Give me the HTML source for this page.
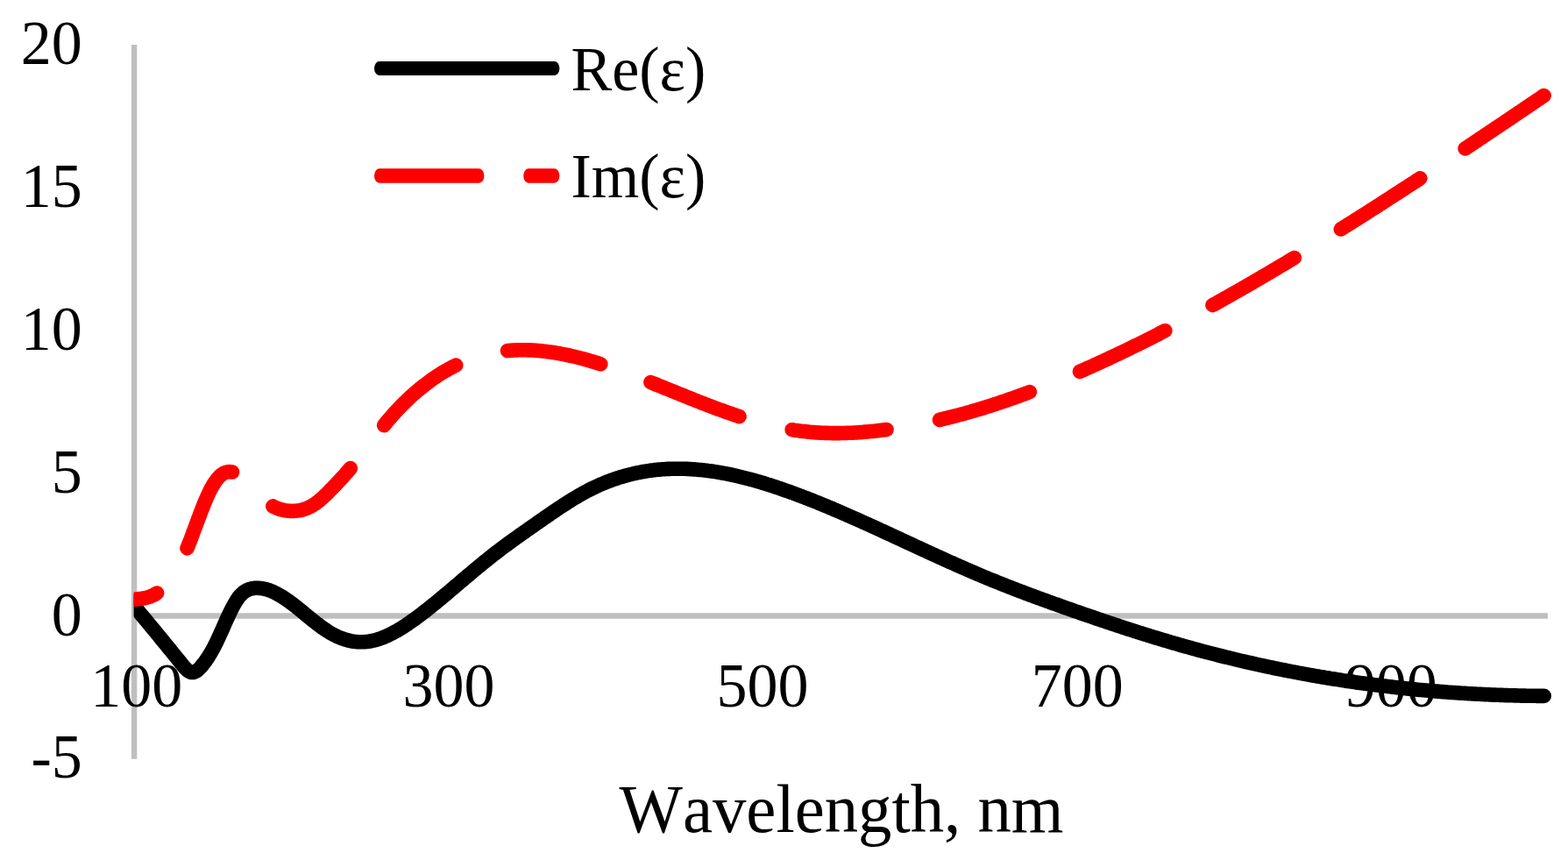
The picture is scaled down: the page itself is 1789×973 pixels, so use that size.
<!DOCTYPE html>
<html><head><meta charset="utf-8"><title>Dielectric function</title>
<style>
html,body{margin:0;padding:0;background:#fff;}
body{width:1789px;height:973px;overflow:hidden;}
svg{display:block;}
text{font-family:"Liberation Serif",serif;fill:#000;}
</style></head><body>
<svg width="1789" height="973" viewBox="0 0 1789 973">
<defs><clipPath id="plot"><rect x="152.6" y="0" width="1640" height="973"/></clipPath></defs>
<rect width="1789" height="973" fill="#fff"/>
<line x1="153.1" y1="51.1" x2="153.1" y2="865.7" stroke="#bfbfbf" stroke-width="6.4"/>
<line x1="150" y1="702.45" x2="1765.9" y2="702.45" stroke="#bfbfbf" stroke-width="6.6"/>
<text transform="translate(93.8 73.3) scale(1 1.015)" font-size="70" text-anchor="end">20</text>
<text transform="translate(93.8 236.1) scale(1 1.015)" font-size="70" text-anchor="end">15</text>
<text transform="translate(93.8 398.9) scale(1 1.015)" font-size="70" text-anchor="end">10</text>
<text transform="translate(93.8 561.8) scale(1 1.015)" font-size="70" text-anchor="end">5</text>
<text transform="translate(93.8 724.6) scale(1 1.015)" font-size="70" text-anchor="end">0</text>
<text transform="translate(93.8 887.4) scale(1 1.015)" font-size="70" text-anchor="end">-5</text>
<text transform="translate(155.8 806.4) scale(1 1.015)" font-size="70" text-anchor="middle">100</text>
<text transform="translate(512.0 806.4) scale(1 1.015)" font-size="70" text-anchor="middle">300</text>
<text transform="translate(870.0 806.4) scale(1 1.015)" font-size="70" text-anchor="middle">500</text>
<text transform="translate(1229.3 806.4) scale(1 1.015)" font-size="70" text-anchor="middle">700</text>
<text transform="translate(1587.3 806.4) scale(1 1.015)" font-size="70" text-anchor="middle">900</text>
<text transform="translate(706.6 948.8) scale(1 1.03)" font-size="76.7" text-anchor="start" style="font-kerning:none">Wavelength, nm</text>
<g clip-path="url(#plot)" fill="none" stroke-linecap="round" stroke-linejoin="round">
<path d="M140.0 675.9 L142.0 678.2 L144.0 680.6 L146.0 683.0 L148.0 685.4 L150.0 687.7 L152.0 690.1 L154.0 692.5 L156.0 694.9 L158.0 697.3 L160.0 699.7 L162.0 702.1 L164.0 704.5 L166.0 706.9 L168.0 709.3 L170.0 711.7 L172.0 714.1 L174.0 716.5 L176.0 718.9 L178.0 721.4 L180.0 723.8 L182.0 726.2 L184.0 728.7 L186.0 731.1 L188.0 733.6 L190.0 736.0 L192.0 738.5 L194.0 740.9 L196.0 743.4 L198.0 745.9 L200.0 748.4 L202.0 750.8 L204.0 753.3 L206.0 755.8 L208.0 758.3 L210.0 760.7 L212.0 762.8 L214.0 764.7 L216.0 766.0 L218.0 766.9 L220.0 767.0 L222.0 766.6 L224.0 765.5 L226.0 764.0 L228.0 762.0 L230.0 759.8 L232.0 757.3 L234.0 754.7 L236.0 751.8 L238.0 748.8 L240.0 745.5 L242.0 742.1 L244.0 738.4 L246.0 734.5 L248.0 730.4 L250.0 726.1 L252.0 721.6 L254.0 717.2 L256.0 712.7 L258.0 708.2 L260.0 703.8 L262.0 699.5 L264.0 695.4 L266.0 691.5 L268.0 688.0 L270.0 684.7 L272.0 681.8 L274.0 679.3 L276.0 677.3 L278.0 675.5 L280.0 674.2 L282.0 673.1 L284.0 672.2 L286.0 671.6 L288.0 671.2 L290.0 670.9 L292.0 670.8 L294.0 670.8 L296.0 670.9 L298.0 671.1 L300.0 671.4 L302.0 671.8 L304.0 672.3 L306.0 672.9 L308.0 673.6 L310.0 674.4 L312.0 675.3 L314.0 676.2 L316.0 677.3 L318.0 678.4 L320.0 679.5 L322.0 680.7 L324.0 682.0 L326.0 683.4 L328.0 684.7 L330.0 686.2 L332.0 687.6 L334.0 689.1 L336.0 690.7 L338.0 692.2 L340.0 693.8 L342.0 695.5 L344.0 697.1 L346.0 698.7 L348.0 700.4 L350.0 702.0 L352.0 703.7 L354.0 705.3 L356.0 706.9 L358.0 708.5 L360.0 710.1 L362.0 711.6 L364.0 713.2 L366.0 714.7 L368.0 716.1 L370.0 717.5 L372.0 718.8 L374.0 720.1 L376.0 721.4 L378.0 722.5 L380.0 723.7 L382.0 724.7 L384.0 725.7 L386.0 726.6 L388.0 727.4 L390.0 728.2 L392.0 728.9 L394.0 729.5 L396.0 730.1 L398.0 730.6 L400.0 731.1 L402.0 731.5 L404.0 731.8 L406.0 732.0 L408.0 732.2 L410.0 732.3 L411.9 732.3 L413.9 732.3 L415.9 732.2 L417.9 732.0 L419.9 731.8 L421.9 731.5 L423.9 731.1 L425.9 730.7 L427.9 730.2 L429.9 729.7 L431.9 729.0 L433.9 728.4 L435.9 727.6 L437.9 726.9 L439.9 726.0 L441.9 725.1 L443.9 724.2 L445.9 723.2 L447.9 722.2 L449.9 721.1 L451.9 720.0 L453.9 718.9 L455.9 717.7 L457.9 716.5 L459.9 715.2 L461.9 713.9 L463.9 712.6 L465.9 711.2 L467.9 709.8 L469.9 708.4 L471.9 707.0 L473.9 705.6 L475.9 704.1 L477.9 702.6 L479.9 701.1 L481.9 699.6 L483.9 698.0 L485.9 696.5 L487.9 694.9 L489.9 693.3 L491.9 691.7 L493.9 690.1 L495.9 688.5 L497.9 686.9 L499.9 685.2 L501.9 683.6 L503.9 681.9 L505.9 680.2 L507.9 678.6 L509.9 676.9 L511.9 675.2 L513.9 673.5 L515.9 671.8 L517.9 670.1 L519.9 668.4 L521.9 666.7 L523.9 665.0 L525.9 663.3 L527.9 661.6 L529.9 659.9 L531.9 658.2 L533.9 656.6 L535.9 654.9 L537.9 653.2 L539.9 651.5 L541.9 649.8 L543.9 648.2 L545.9 646.5 L547.9 644.9 L549.9 643.2 L551.9 641.6 L553.9 640.0 L555.9 638.4 L557.9 636.8 L559.9 635.2 L561.9 633.6 L563.9 632.0 L565.9 630.5 L567.9 629.0 L569.9 627.4 L571.9 625.9 L573.9 624.4 L575.9 622.9 L577.9 621.5 L579.9 620.0 L581.9 618.5 L583.9 617.1 L585.9 615.6 L587.9 614.2 L589.9 612.8 L591.9 611.3 L593.9 609.9 L595.9 608.5 L597.9 607.1 L599.9 605.7 L601.9 604.3 L603.9 602.9 L605.9 601.5 L607.9 600.1 L609.9 598.7 L611.9 597.3 L613.9 595.9 L615.9 594.5 L617.9 593.1 L619.9 591.7 L621.9 590.3 L623.9 589.0 L625.9 587.6 L627.9 586.2 L629.9 584.8 L631.9 583.5 L633.9 582.1 L635.9 580.8 L637.9 579.4 L639.9 578.1 L641.9 576.8 L643.9 575.5 L645.9 574.2 L647.9 572.9 L649.9 571.7 L651.9 570.4 L653.9 569.2 L655.9 568.0 L657.9 566.8 L659.9 565.6 L661.9 564.5 L663.9 563.3 L665.9 562.2 L667.9 561.1 L669.9 560.1 L671.9 559.0 L673.9 558.0 L675.9 557.0 L677.9 556.1 L679.9 555.1 L681.9 554.2 L683.9 553.3 L685.9 552.4 L687.9 551.6 L689.9 550.7 L691.9 549.9 L693.9 549.2 L695.9 548.4 L697.9 547.7 L699.9 546.9 L701.9 546.3 L703.9 545.6 L705.9 544.9 L707.9 544.3 L709.9 543.7 L711.9 543.1 L713.9 542.6 L715.9 542.0 L717.9 541.5 L719.9 541.0 L721.9 540.5 L723.9 540.0 L725.9 539.6 L727.9 539.2 L729.9 538.8 L731.9 538.4 L733.9 538.0 L735.9 537.7 L737.9 537.4 L739.9 537.1 L741.9 536.8 L743.9 536.5 L745.9 536.3 L747.9 536.0 L749.9 535.8 L751.9 535.6 L753.9 535.5 L755.9 535.3 L757.9 535.2 L759.9 535.0 L761.9 534.9 L763.9 534.9 L765.9 534.8 L767.9 534.7 L769.9 534.7 L771.9 534.7 L773.9 534.7 L775.9 534.7 L777.9 534.7 L779.9 534.8 L781.9 534.8 L783.9 534.9 L785.9 535.0 L787.9 535.1 L789.9 535.2 L791.9 535.4 L793.9 535.5 L795.9 535.7 L797.9 535.9 L799.9 536.1 L801.9 536.3 L803.9 536.5 L805.9 536.7 L807.9 537.0 L809.9 537.2 L811.9 537.5 L813.9 537.8 L815.9 538.1 L817.9 538.4 L819.9 538.8 L821.9 539.1 L823.9 539.5 L825.9 539.8 L827.9 540.2 L829.9 540.6 L831.9 541.0 L833.9 541.4 L835.9 541.9 L837.9 542.3 L839.9 542.7 L841.9 543.2 L843.9 543.7 L845.9 544.2 L847.9 544.7 L849.9 545.2 L851.9 545.7 L853.9 546.2 L855.9 546.7 L857.9 547.3 L859.9 547.8 L861.9 548.4 L863.9 549.0 L865.9 549.5 L867.9 550.1 L869.9 550.7 L871.9 551.3 L873.9 552.0 L875.9 552.6 L877.9 553.2 L879.9 553.9 L881.9 554.5 L883.9 555.2 L885.9 555.8 L887.9 556.5 L889.9 557.2 L891.9 557.9 L893.9 558.6 L895.9 559.3 L897.9 560.0 L899.9 560.7 L901.9 561.4 L903.9 562.1 L905.9 562.9 L907.9 563.6 L909.9 564.4 L911.9 565.1 L913.9 565.9 L915.9 566.6 L917.9 567.4 L919.9 568.2 L921.9 568.9 L923.9 569.7 L925.9 570.5 L927.9 571.3 L929.9 572.1 L931.9 572.9 L933.9 573.7 L935.9 574.5 L937.9 575.4 L939.9 576.2 L941.9 577.0 L943.9 577.8 L945.9 578.7 L947.9 579.5 L949.9 580.3 L951.8 581.2 L953.8 582.0 L955.8 582.9 L957.8 583.8 L959.8 584.6 L961.8 585.5 L963.8 586.4 L965.8 587.2 L967.8 588.1 L969.8 589.0 L971.8 589.9 L973.8 590.7 L975.8 591.6 L977.8 592.5 L979.8 593.4 L981.8 594.3 L983.8 595.2 L985.8 596.1 L987.8 597.0 L989.8 597.9 L991.8 598.8 L993.8 599.7 L995.8 600.6 L997.8 601.5 L999.8 602.4 L1001.8 603.4 L1003.8 604.3 L1005.8 605.2 L1007.8 606.1 L1009.8 607.0 L1011.8 608.0 L1013.8 608.9 L1015.8 609.8 L1017.8 610.7 L1019.8 611.6 L1021.8 612.6 L1023.8 613.5 L1025.8 614.4 L1027.8 615.3 L1029.8 616.3 L1031.8 617.2 L1033.8 618.1 L1035.8 619.1 L1037.8 620.0 L1039.8 620.9 L1041.8 621.8 L1043.8 622.8 L1045.8 623.7 L1047.8 624.6 L1049.8 625.5 L1051.8 626.5 L1053.8 627.4 L1055.8 628.3 L1057.8 629.2 L1059.8 630.1 L1061.8 631.1 L1063.8 632.0 L1065.8 632.9 L1067.8 633.8 L1069.8 634.7 L1071.8 635.6 L1073.8 636.5 L1075.8 637.4 L1077.8 638.4 L1079.8 639.3 L1081.8 640.2 L1083.8 641.1 L1085.8 641.9 L1087.8 642.8 L1089.8 643.7 L1091.8 644.6 L1093.8 645.5 L1095.8 646.4 L1097.8 647.3 L1099.8 648.1 L1101.8 649.0 L1103.8 649.9 L1105.8 650.8 L1107.8 651.6 L1109.8 652.5 L1111.8 653.3 L1113.8 654.2 L1115.8 655.0 L1117.8 655.9 L1119.8 656.7 L1121.8 657.6 L1123.8 658.4 L1125.8 659.2 L1127.8 660.1 L1129.8 660.9 L1131.8 661.7 L1133.8 662.5 L1135.8 663.3 L1137.8 664.1 L1139.8 664.9 L1141.8 665.7 L1143.8 666.5 L1145.8 667.3 L1147.8 668.1 L1149.8 668.9 L1151.8 669.7 L1153.8 670.4 L1155.8 671.2 L1157.8 672.0 L1159.8 672.8 L1161.8 673.5 L1163.8 674.3 L1165.8 675.0 L1167.8 675.8 L1169.8 676.6 L1171.8 677.3 L1173.8 678.1 L1175.8 678.8 L1177.8 679.5 L1179.8 680.3 L1181.8 681.0 L1183.8 681.8 L1185.8 682.5 L1187.8 683.2 L1189.8 684.0 L1191.8 684.7 L1193.8 685.4 L1195.8 686.1 L1197.8 686.9 L1199.8 687.6 L1201.8 688.3 L1203.8 689.0 L1205.8 689.7 L1207.8 690.4 L1209.8 691.1 L1211.8 691.9 L1213.8 692.6 L1215.8 693.3 L1217.8 694.0 L1219.8 694.7 L1221.8 695.4 L1223.8 696.1 L1225.8 696.8 L1227.8 697.5 L1229.8 698.2 L1231.8 698.9 L1233.8 699.6 L1235.8 700.3 L1237.8 701.0 L1239.8 701.7 L1241.8 702.3 L1243.8 703.0 L1245.8 703.7 L1247.8 704.4 L1249.8 705.1 L1251.8 705.8 L1253.8 706.5 L1255.8 707.1 L1257.8 707.8 L1259.8 708.5 L1261.8 709.2 L1263.8 709.8 L1265.8 710.5 L1267.8 711.2 L1269.8 711.8 L1271.8 712.5 L1273.8 713.2 L1275.8 713.8 L1277.8 714.5 L1279.8 715.1 L1281.8 715.8 L1283.8 716.5 L1285.8 717.1 L1287.8 717.8 L1289.8 718.4 L1291.8 719.0 L1293.8 719.7 L1295.8 720.3 L1297.8 721.0 L1299.8 721.6 L1301.8 722.2 L1303.8 722.9 L1305.8 723.5 L1307.8 724.1 L1309.8 724.7 L1311.8 725.4 L1313.8 726.0 L1315.8 726.6 L1317.8 727.2 L1319.8 727.8 L1321.8 728.4 L1323.8 729.0 L1325.8 729.6 L1327.8 730.2 L1329.8 730.8 L1331.8 731.4 L1333.8 732.0 L1335.8 732.6 L1337.8 733.2 L1339.8 733.8 L1341.8 734.3 L1343.8 734.9 L1345.8 735.5 L1347.8 736.1 L1349.8 736.6 L1351.8 737.2 L1353.8 737.8 L1355.8 738.3 L1357.8 738.9 L1359.8 739.4 L1361.8 740.0 L1363.8 740.5 L1365.8 741.1 L1367.8 741.6 L1369.8 742.1 L1371.8 742.7 L1373.8 743.2 L1375.8 743.7 L1377.8 744.3 L1379.8 744.8 L1381.8 745.3 L1383.8 745.8 L1385.8 746.3 L1387.8 746.8 L1389.8 747.4 L1391.8 747.9 L1393.8 748.4 L1395.8 748.9 L1397.8 749.4 L1399.8 749.8 L1401.8 750.3 L1403.8 750.8 L1405.8 751.3 L1407.8 751.8 L1409.8 752.3 L1411.8 752.7 L1413.8 753.2 L1415.8 753.7 L1417.8 754.2 L1419.8 754.6 L1421.8 755.1 L1423.8 755.5 L1425.8 756.0 L1427.8 756.4 L1429.8 756.9 L1431.8 757.3 L1433.8 757.8 L1435.8 758.2 L1437.8 758.7 L1439.8 759.1 L1441.8 759.5 L1443.8 760.0 L1445.8 760.4 L1447.8 760.8 L1449.8 761.2 L1451.8 761.6 L1453.8 762.1 L1455.8 762.5 L1457.8 762.9 L1459.8 763.3 L1461.8 763.7 L1463.8 764.1 L1465.8 764.5 L1467.8 764.9 L1469.8 765.3 L1471.8 765.7 L1473.8 766.1 L1475.8 766.4 L1477.8 766.8 L1479.8 767.2 L1481.8 767.6 L1483.8 767.9 L1485.8 768.3 L1487.8 768.7 L1489.8 769.0 L1491.7 769.4 L1493.7 769.8 L1495.7 770.1 L1497.7 770.5 L1499.7 770.8 L1501.7 771.2 L1503.7 771.5 L1505.7 771.9 L1507.7 772.2 L1509.7 772.5 L1511.7 772.9 L1513.7 773.2 L1515.7 773.5 L1517.7 773.9 L1519.7 774.2 L1521.7 774.5 L1523.7 774.8 L1525.7 775.1 L1527.7 775.4 L1529.7 775.7 L1531.7 776.1 L1533.7 776.4 L1535.7 776.7 L1537.7 777.0 L1539.7 777.3 L1541.7 777.5 L1543.7 777.8 L1545.7 778.1 L1547.7 778.4 L1549.7 778.7 L1551.7 779.0 L1553.7 779.2 L1555.7 779.5 L1557.7 779.8 L1559.7 780.1 L1561.7 780.3 L1563.7 780.6 L1565.7 780.8 L1567.7 781.1 L1569.7 781.4 L1571.7 781.6 L1573.7 781.9 L1575.7 782.1 L1577.7 782.4 L1579.7 782.6 L1581.7 782.8 L1583.7 783.1 L1585.7 783.3 L1587.7 783.5 L1589.7 783.8 L1591.7 784.0 L1593.7 784.2 L1595.7 784.4 L1597.7 784.7 L1599.7 784.9 L1601.7 785.1 L1603.7 785.3 L1605.7 785.5 L1607.7 785.7 L1609.7 785.9 L1611.7 786.1 L1613.7 786.3 L1615.7 786.5 L1617.7 786.7 L1619.7 786.9 L1621.7 787.1 L1623.7 787.3 L1625.7 787.4 L1627.7 787.6 L1629.7 787.8 L1631.7 788.0 L1633.7 788.1 L1635.7 788.3 L1637.7 788.5 L1639.7 788.6 L1641.7 788.8 L1643.7 789.0 L1645.7 789.1 L1647.7 789.3 L1649.7 789.4 L1651.7 789.6 L1653.7 789.7 L1655.7 789.9 L1657.7 790.0 L1659.7 790.1 L1661.7 790.3 L1663.7 790.4 L1665.7 790.5 L1667.7 790.7 L1669.7 790.8 L1671.7 790.9 L1673.7 791.0 L1675.7 791.2 L1677.7 791.3 L1679.7 791.4 L1681.7 791.5 L1683.7 791.6 L1685.7 791.7 L1687.7 791.8 L1689.7 791.9 L1691.7 792.0 L1693.7 792.1 L1695.7 792.2 L1697.7 792.3 L1699.7 792.4 L1701.7 792.5 L1703.7 792.6 L1705.7 792.6 L1707.7 792.7 L1709.7 792.8 L1711.7 792.9 L1713.7 792.9 L1715.7 793.0 L1717.7 793.1 L1719.7 793.1 L1721.7 793.2 L1723.7 793.3 L1725.7 793.3 L1727.7 793.4 L1729.7 793.4 L1731.7 793.5 L1733.7 793.5 L1735.7 793.6 L1737.7 793.6 L1739.7 793.6 L1741.7 793.7 L1743.7 793.7 L1745.7 793.8 L1747.7 793.8 L1749.7 793.8 L1751.7 793.8 L1753.7 793.9 L1755.7 793.9 L1757.7 793.9 L1759.7 793.9 L1761.7 793.9" stroke="#000" stroke-width="16.6"/>
<path d="M140.0 685.1 L142.0 684.7 L143.9 684.5 L145.9 684.3 L147.8 684.1 L149.8 684.0 L151.7 683.8 L153.7 683.7 L155.6 683.5 L157.6 683.3 L159.6 683.1 L161.5 682.9 L163.5 682.5 L165.4 682.2 L167.4 681.7 L169.3 681.1 L171.3 680.5 L173.2 679.7 L175.2 678.8 L177.1 677.7 L179.1 676.5 M213.5 625.4 L215.5 620.5 L217.5 615.5 L219.4 610.2 L221.4 604.9 L223.4 599.6 L225.4 594.2 L227.4 588.9 L229.3 583.7 L231.3 578.6 L233.3 573.7 L235.3 569.0 L237.3 564.5 L239.2 560.4 L241.2 556.6 L243.2 553.1 L245.2 550.0 L247.2 547.2 L249.2 544.9 L251.1 542.8 L253.1 541.2 L255.1 539.9 L257.1 539.0 L259.1 538.4 L261.0 538.1 L263.0 538.2 L265.0 538.5 M311.3 577.4 L313.3 578.5 L315.3 579.4 L317.3 580.2 L319.3 580.9 L321.4 581.4 L323.4 581.9 L325.4 582.3 L327.4 582.6 L329.4 582.8 L331.4 582.9 L333.4 583.0 L335.4 582.9 L337.4 582.8 L339.5 582.6 L341.5 582.3 L343.5 581.9 L345.5 581.4 L347.5 580.7 L349.5 580.0 L351.5 579.1 L353.5 578.2 L355.6 577.1 L357.6 575.9 L359.6 574.6 L361.6 573.1 L363.6 571.6 L365.6 569.9 L367.6 568.1 L369.6 566.3 L371.6 564.4 L373.7 562.4 L375.7 560.4 L377.7 558.3 L379.7 556.3 L381.7 554.2 L383.7 552.1 L385.7 549.9 L387.7 547.8 L389.7 545.6 L391.8 543.4 L393.8 541.1 L395.8 538.8 L397.8 536.5 L399.8 534.1 M438.1 485.2 L440.1 482.7 L442.1 480.3 L444.1 478.0 L446.1 475.7 L448.1 473.4 L450.1 471.2 L452.1 469.0 L454.1 466.9 L456.1 464.8 L458.1 462.7 L460.1 460.7 L462.1 458.7 L464.1 456.8 L466.1 454.8 L468.1 453.0 L470.1 451.1 L472.1 449.3 L474.1 447.6 L476.1 445.9 L478.1 444.2 L480.2 442.5 L482.2 440.9 L484.2 439.3 L486.2 437.8 L488.2 436.3 L490.2 434.8 L492.2 433.3 L494.2 431.9 L496.2 430.6 L498.2 429.2 L500.2 427.9 L502.2 426.6 L504.2 425.4 L506.2 424.2 L508.2 423.0 L510.2 421.9 L512.2 420.8 L514.2 419.7 L516.2 418.6 L518.2 417.6 L520.2 416.6 M579.0 400.1 L581.0 399.9 L583.0 399.8 L585.0 399.6 L587.0 399.5 L589.0 399.4 L591.0 399.3 L593.0 399.3 L595.0 399.3 L597.1 399.3 L599.1 399.3 L601.1 399.3 L603.1 399.4 L605.1 399.4 L607.1 399.5 L609.1 399.6 L611.1 399.8 L613.1 399.9 L615.1 400.1 L617.1 400.3 L619.1 400.5 L621.1 400.7 L623.1 400.9 L625.1 401.2 L627.1 401.4 L629.1 401.7 L631.1 402.0 L633.2 402.3 L635.2 402.7 L637.2 403.0 L639.2 403.4 L641.2 403.8 L643.2 404.2 L645.2 404.6 L647.2 405.0 L649.2 405.4 L651.2 405.9 L653.2 406.3 L655.2 406.8 L657.2 407.3 L659.2 407.8 L661.2 408.3 L663.2 408.8 L665.2 409.3 L667.2 409.9 L669.3 410.4 L671.3 411.0 L673.3 411.6 L675.3 412.2 L677.3 412.8 L679.3 413.4 L681.3 414.0 L683.3 414.6 L685.3 415.3 M742.4 436.1 L744.4 436.9 L746.4 437.7 L748.3 438.5 L750.3 439.3 L752.3 440.1 L754.3 440.9 L756.3 441.7 L758.3 442.5 L760.2 443.3 L762.2 444.1 L764.2 444.9 L766.2 445.7 L768.2 446.5 L770.2 447.3 L772.1 448.1 L774.1 448.9 L776.1 449.7 L778.1 450.5 L780.1 451.3 L782.0 452.1 L784.0 452.9 L786.0 453.7 L788.0 454.5 L790.0 455.3 L792.0 456.1 L793.9 456.9 L795.9 457.6 L797.9 458.4 L799.9 459.2 L801.9 460.0 L803.9 460.8 L805.8 461.5 L807.8 462.3 L809.8 463.0 L811.8 463.8 L813.8 464.5 L815.7 465.3 L817.7 466.0 L819.7 466.8 L821.7 467.5 L823.7 468.2 L825.7 468.9 L827.6 469.6 L829.6 470.3 L831.6 471.0 L833.6 471.7 L835.6 472.4 L837.6 473.1 L839.5 473.8 L841.5 474.4 L843.5 475.1 M903.7 490.2 L905.7 490.6 L907.7 490.9 L909.7 491.1 L911.7 491.4 L913.7 491.7 L915.7 491.9 L917.7 492.1 L919.7 492.3 L921.7 492.6 L923.7 492.7 L925.7 492.9 L927.7 493.1 L929.7 493.2 L931.6 493.4 L933.6 493.5 L935.6 493.6 L937.6 493.7 L939.6 493.8 L941.6 493.9 L943.6 493.9 L945.6 494.0 L947.6 494.0 L949.6 494.1 L951.6 494.1 L953.6 494.1 L955.6 494.1 L957.6 494.1 L959.6 494.0 L961.6 494.0 L963.6 494.0 L965.6 493.9 L967.6 493.8 L969.6 493.8 L971.6 493.7 L973.6 493.6 L975.6 493.5 L977.6 493.4 L979.6 493.2 L981.6 493.1 L983.6 493.0 L985.5 492.8 L987.5 492.6 L989.5 492.5 L991.5 492.3 L993.5 492.1 L995.5 491.9 L997.5 491.7 L999.5 491.5 L1001.5 491.3 L1003.5 491.0 L1005.5 490.8 L1007.5 490.6 L1009.5 490.3 L1011.5 490.0 M1072.0 478.9 L1074.0 478.4 L1076.0 477.9 L1078.0 477.4 L1080.1 476.9 L1082.1 476.4 L1084.1 475.9 L1086.1 475.4 L1088.1 474.9 L1090.1 474.4 L1092.2 473.8 L1094.2 473.3 L1096.2 472.8 L1098.2 472.2 L1100.2 471.7 L1102.2 471.1 L1104.3 470.5 L1106.3 470.0 L1108.3 469.4 L1110.3 468.8 L1112.3 468.2 L1114.3 467.6 L1116.3 467.0 L1118.4 466.4 L1120.4 465.8 L1122.4 465.2 L1124.4 464.5 L1126.4 463.9 L1128.4 463.3 L1130.5 462.6 L1132.5 462.0 L1134.5 461.3 L1136.5 460.7 L1138.5 460.0 L1140.5 459.3 L1142.5 458.6 L1144.6 458.0 L1146.6 457.3 L1148.6 456.6 L1150.6 455.9 L1152.6 455.2 L1154.6 454.5 L1156.7 453.8 L1158.7 453.1 L1160.7 452.3 L1162.7 451.6 L1164.7 450.9 L1166.7 450.1 L1168.8 449.4 L1170.8 448.7 L1172.8 447.9 L1174.8 447.1 M1232.0 423.8 L1234.0 423.0 L1236.0 422.1 L1238.0 421.2 L1239.9 420.3 L1241.9 419.4 L1243.9 418.6 L1245.9 417.7 L1247.9 416.8 L1249.9 415.9 L1251.9 415.0 L1253.8 414.1 L1255.8 413.1 L1257.8 412.2 L1259.8 411.3 L1261.8 410.4 L1263.8 409.5 L1265.8 408.5 L1267.7 407.6 L1269.7 406.7 L1271.7 405.7 L1273.7 404.8 L1275.7 403.9 L1277.7 402.9 L1279.7 402.0 L1281.6 401.0 L1283.6 400.1 L1285.6 399.1 L1287.6 398.1 L1289.6 397.2 L1291.6 396.2 L1293.6 395.2 L1295.5 394.2 L1297.5 393.3 L1299.5 392.3 L1301.5 391.3 L1303.5 390.3 L1305.5 389.3 L1307.5 388.3 L1309.4 387.3 L1311.4 386.3 L1313.4 385.3 L1315.4 384.3 L1317.4 383.3 L1319.4 382.3 L1321.4 381.3 L1323.3 380.2 L1325.3 379.2 L1327.3 378.2 L1329.3 377.2 M1383.5 348.1 L1385.5 347.0 L1387.5 345.9 L1389.5 344.8 L1391.4 343.7 L1393.4 342.5 L1395.4 341.4 L1397.4 340.3 L1399.4 339.2 L1401.4 338.1 L1403.4 337.0 L1405.3 335.8 L1407.3 334.7 L1409.3 333.6 L1411.3 332.5 L1413.3 331.3 L1415.3 330.2 L1417.2 329.1 L1419.2 327.9 L1421.2 326.8 L1423.2 325.6 L1425.2 324.5 L1427.2 323.3 L1429.2 322.2 L1431.1 321.0 L1433.1 319.9 L1435.1 318.7 L1437.1 317.6 L1439.1 316.4 L1441.1 315.2 L1443.1 314.1 L1445.0 312.9 L1447.0 311.8 L1449.0 310.6 L1451.0 309.4 L1453.0 308.2 L1455.0 307.1 L1456.9 305.9 L1458.9 304.7 L1460.9 303.5 L1462.9 302.3 L1464.9 301.2 L1466.9 300.0 L1468.9 298.8 L1470.8 297.6 L1472.8 296.4 L1474.8 295.2 L1476.8 294.0 M1529.8 261.4 L1531.8 260.2 L1533.8 258.9 L1535.8 257.6 L1537.8 256.4 L1539.9 255.1 L1541.9 253.9 L1543.9 252.6 L1545.9 251.3 L1547.9 250.0 L1549.9 248.8 L1551.9 247.5 L1553.9 246.2 L1555.9 244.9 L1558.0 243.7 L1560.0 242.4 L1562.0 241.1 L1564.0 239.8 L1566.0 238.5 L1568.0 237.3 L1570.0 236.0 L1572.0 234.7 L1574.0 233.4 L1576.1 232.1 L1578.1 230.8 L1580.1 229.5 L1582.1 228.2 L1584.1 226.9 L1586.1 225.6 L1588.1 224.3 L1590.1 223.0 L1592.1 221.7 L1594.2 220.4 L1596.2 219.1 L1598.2 217.8 L1600.2 216.5 L1602.2 215.2 L1604.2 213.9 L1606.2 212.6 L1608.2 211.3 L1610.2 210.0 L1612.3 208.7 L1614.3 207.4 L1616.3 206.0 L1618.3 204.7 L1620.3 203.4 M1671.6 169.5 L1673.6 168.2 L1675.6 166.9 L1677.6 165.5 L1679.6 164.2 L1681.6 162.9 L1683.6 161.5 L1685.6 160.2 L1687.6 158.8 L1689.6 157.5 L1691.6 156.2 L1693.6 154.8 L1695.6 153.5 L1697.6 152.1 L1699.6 150.8 L1701.6 149.5 L1703.6 148.1 L1705.6 146.8 L1707.6 145.4 L1709.6 144.1 L1711.6 142.7 L1713.6 141.4 L1715.6 140.1 L1717.6 138.7 L1719.6 137.4 L1721.6 136.0 L1723.6 134.7 L1725.6 133.3 L1727.6 132.0 L1729.6 130.6 L1731.6 129.3 L1733.6 127.9 L1735.6 126.6 L1737.6 125.2 L1739.6 123.9 L1741.6 122.5 L1743.6 121.2 L1745.6 119.8 L1747.6 118.5 L1749.6 117.1 L1751.6 115.8 L1753.6 114.4 L1755.6 113.1 L1757.6 111.7 L1759.6 110.3 L1761.6 109.0" stroke="#ff0000" stroke-width="16.6"/>
</g>
<rect x="427" y="70.1" width="211.4" height="15.8" rx="5.6" ry="7.9" fill="#000"/>
<rect x="427" y="192.3" width="125.4" height="16.4" rx="5.8" ry="8.2" fill="#ff0000"/>
<rect x="597.2" y="192.3" width="41.2" height="16.4" rx="5.8" ry="8.2" fill="#ff0000"/>
<text transform="translate(651.5 103.0) scale(1 1.02)" font-size="70" text-anchor="start">Re(ε)</text>
<text transform="translate(651.5 224.5) scale(1 1.02)" font-size="70" text-anchor="start">Im(ε)</text>
</svg>
</body></html>
